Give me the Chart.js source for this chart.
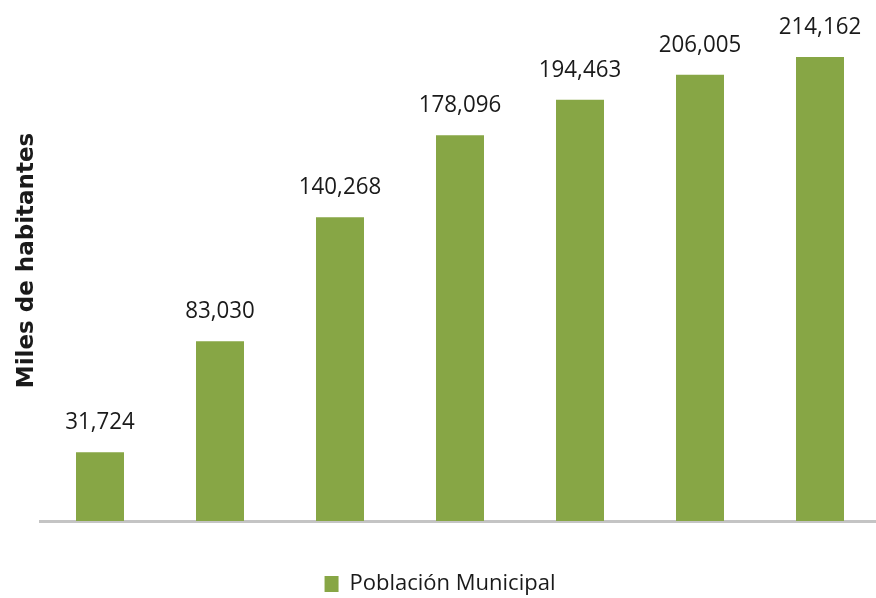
<!DOCTYPE html>
<html>
<head>
<meta charset="utf-8">
<script src="https://cdn.jsdelivr.net/npm/chart.js@4/dist/chart.umd.min.js"></script>
<style>
html,body{margin:0;padding:0;background:#fff;overflow:hidden;}
#wrap{width:880px;height:598px;position:relative;}
</style>
</head>
<body>
<div id="wrap"><canvas id="c"></canvas></div>
<script>
const categories = ['1','2','3','4','5','6','7'];
const seriesName = 'Población Municipal';
const poblacion = [31724, 83030, 140268, 178096, 194463, 206005, 214162];
const yTitle = 'Miles de habitantes';

const barColor = '#87A645';
const labelFont = '"Open Sans", sans-serif';

const valueLabels = {
  id: 'valueLabels',
  afterDatasetsDraw(chart) {
    const ctx = chart.ctx;
    const meta = chart.getDatasetMeta(0);
    ctx.save();
    ctx.font = '24px ' + labelFont;
    ctx.fillStyle = '#1a1a1a';
    ctx.textAlign = 'center';
    ctx.textBaseline = 'alphabetic';
    meta.data.forEach((bar, i) => {
      const v = chart.data.datasets[0].data[i];
      ctx.save();
      ctx.translate(bar.x, bar.y - 23);
      ctx.scale(0.93, 1);
      ctx.fillText(v.toLocaleString('en-US'), 0, 0);
      ctx.restore();
    });
    ctx.restore();
  }
};

new Chart(document.getElementById('c'), {
  type: 'bar',
  data: {
    labels: categories,
    datasets: [{
      label: seriesName,
      data: poblacion,
      backgroundColor: barColor,
      borderWidth: 0,
      barPercentage: 0.4,
      categoryPercentage: 1.0
    }]
  },
  options: {
    responsive: true,
    maintainAspectRatio: false,
    animation: false,
    layout: { padding: { top: 0, right: 0, bottom: -7, left: 0 } },
    plugins: {
      legend: {
        position: 'bottom',
        labels: {
          font: { family: labelFont, size: 22 },
          color: '#1a1a1a',
          boxWidth: 14,
          boxHeight: 16,
          padding: 4
        }
      },
      tooltip: { enabled: false }
    },
    scales: {
      x: {
        grid: { display: false, drawTicks: false },
        border: { display: true, color: '#c4c4c4', width: 3 },
        ticks: { display: false },
        afterFit(s) { s.height = 48; }
      },
      y: {
        min: 0,
        max: 240500,
        grid: { display: false, drawTicks: false },
        border: { display: false },
        ticks: { display: false },
        title: {
          display: true,
          text: yTitle,
          font: { family: '"DejaVu Sans", sans-serif', size: 23, weight: 'bold' },
          color: '#1a1a1a',
          padding: { top: 13, bottom: 0 }
        },
        afterFit(s) { s.width = 40; }
      }
    }
  },
  plugins: [valueLabels]
});
</script>
</body>
</html>
